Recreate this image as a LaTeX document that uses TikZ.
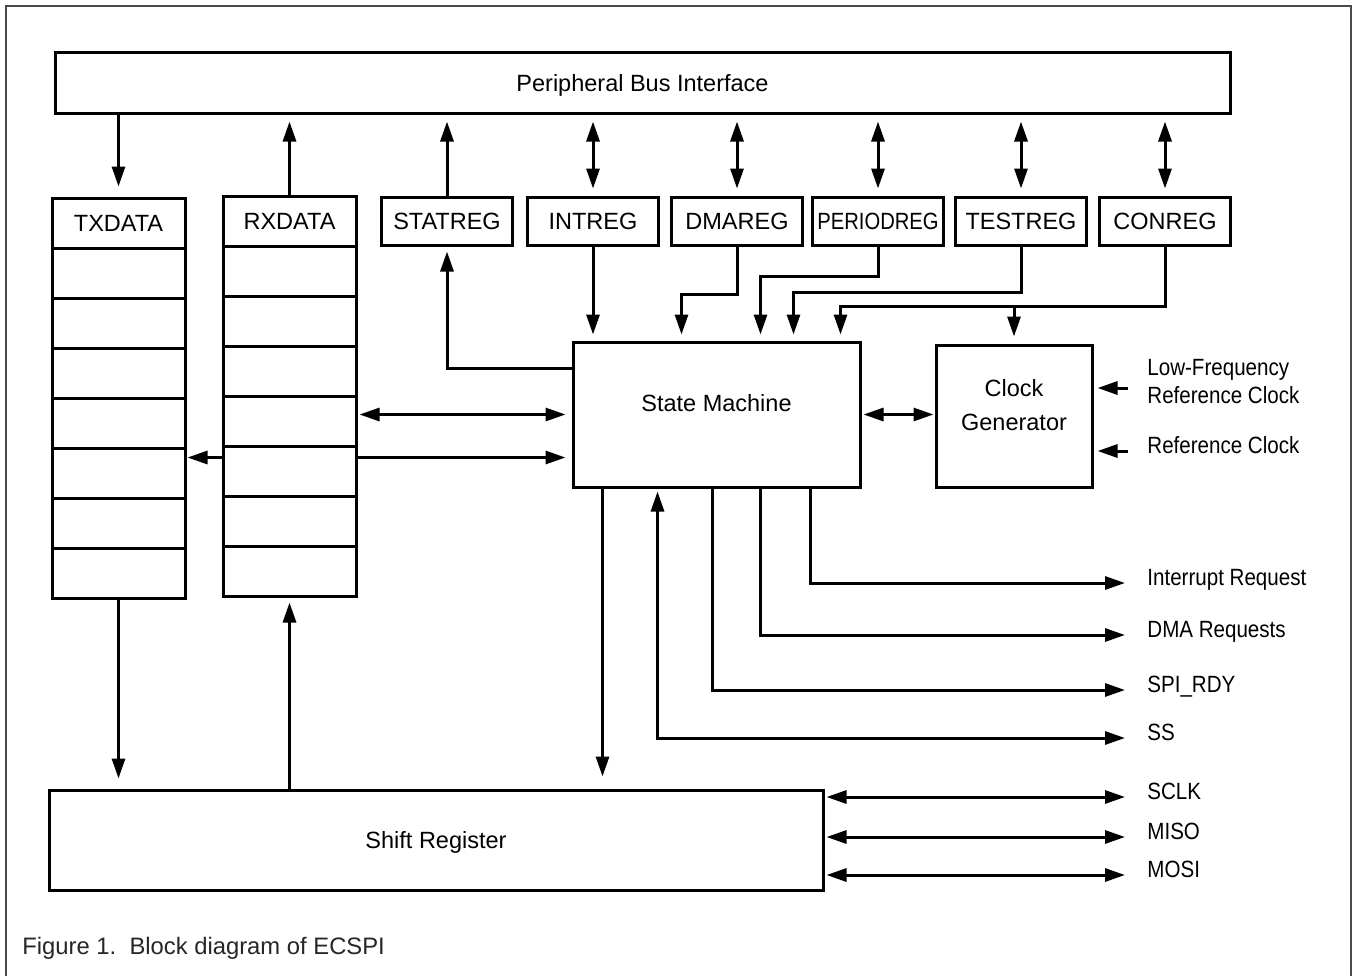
\documentclass[tikz,border=0pt]{standalone}
\usepackage{fontspec}
\setmainfont{Liberation Sans}
\newfontfamily\narrowfont[FakeStretch=0.875]{Liberation Sans}
\usepackage{tikz}
\usetikzlibrary{calc}
\usetikzlibrary{arrows.meta}
\definecolor{framegray}{HTML}{4A4A4A}
\definecolor{captext}{HTML}{262626}
\tikzset{
txt/.style = {font=\fontsize{11.75}{17}\selectfont,
        text height=8.5pt, text depth=0pt},
blk/.style = {draw, line width=1.5pt, inner sep=0pt, txt},
SIG/.style = {line width=1.5pt,
        -{Triangle[length=10pt,width=6.5pt]}
            },
BSIG/.style = {line width=1.5pt,
        {Triangle[length=10pt,width=6.5pt]}-%
        {Triangle[length=10pt,width=6.5pt]}
            },
lbl/.style = {txt, font=\narrowfont\fontsize{11.75}{17}\selectfont,
        inner sep=0pt, anchor=west, text depth=6pt}
        }

\begin{document}
\begin{tikzpicture}[x=0.5pt, y=-0.5pt]

\fill[white] (0,0) rectangle (1354,976);
\useasboundingbox (0,0) rectangle (1354,976);
\draw[framegray, line width=1.2pt] (6,976) -- (6,6) -- (1351,6) -- (1351,976);

%%% Blocks:

\node[blk, minimum width=587.5pt, minimum height=30.5pt] (pbi) at (642.5,82.5) {Peripheral Bus Interface};

\node[blk, minimum width=66.5pt, minimum height=25pt] (tx0) at (118.5,223) {TXDATA};
\node[blk, minimum width=66.5pt, minimum height=25pt] (rx0) at (289.5,221) {RXDATA};
\foreach \i in {1,...,7}{
  \node[blk, minimum width=66.5pt, minimum height=25pt] (tx\i) at (118.5,{223+50*\i}) {};
  \node[blk, minimum width=66.5pt, minimum height=25pt] (rx\i) at (289.5,{221+50*\i}) {};
}

\foreach \nm/\txt/\xx in {statreg/STATREG/447, intreg/INTREG/593, dmareg/DMAREG/737,
    periodreg/{\scalebox{0.86}[1]{PERIODREG}}/878, testreg/TESTREG/1021, conreg/CONREG/1165}
  \node[blk, minimum width=65.5pt, minimum height=24pt] (\nm) at (\xx,221) {\txt};

\node[blk, minimum width=143.5pt, minimum height=72.5pt,
      label={[txt, yshift=5.75pt]center:State Machine}] (sm) at (716.5,414.5) {};
\node[blk, minimum width=78pt, minimum height=71pt,
      label={[txt, align=center, text height=, text depth=, yshift=5.5pt]center:Clock\\Generator}] (clk) at (1014,416) {};
\node[blk, minimum width=387pt, minimum height=50pt] (sr) at (436,840) {Shift Register};

%%% Signal names:

\node[lbl, align=left, text height=, text depth=,
      font=\narrowfont\fontsize{11.75}{14}\selectfont] (lfclk) at (1147,382) {Low-Frequency\\Reference Clock};
\node[lbl] (refclk) at (1147,451) {Reference Clock};
\node[lbl] (irq) at (1147,583) {Interrupt Request};
\node[lbl] (dmareq) at (1147,635) {DMA Requests};
\node[lbl] (spirdy) at (1147,690) {SPI\_RDY};
\node[lbl] (ss) at (1147,738) {SS};
\node[lbl] (sclk) at (1147,797) {SCLK};
\node[lbl] (miso) at (1147,837) {MISO};
\node[lbl] (mosi) at (1147,875) {MOSI};

%%% Bus side:

\draw[SIG, shorten >=5pt] (pbi.south -| tx0.north) -- (tx0.north);
\draw[SIG, shorten >=3.5pt] (rx0.north) -- (rx0.north |- pbi.south);
\draw[SIG, shorten >=3.5pt] (statreg.north) -- (statreg.north |- pbi.south);
\foreach \nm in {intreg,dmareg,periodreg,testreg,conreg}
  \draw[BSIG, shorten <=3.5pt, shorten >=3.5pt] (\nm.north) -- (\nm.north |- pbi.south);

%%% Registers and state machine:

\draw[SIG, shorten >=2.5pt] ([yshift=-14pt]sm.north west) -| (statreg.south);
\draw[SIG, shorten >=3pt] (intreg.south) -- (intreg.south |- sm.north);
\draw[SIG, shorten >=3pt] (dmareg.south) -- ++(0,48) -| ([xshift=55pt]sm.north west);
\draw[SIG, shorten >=3pt] (periodreg.south) -- ++(0,30) -| ([xshift=94.5pt]sm.north west);
\draw[SIG, shorten >=3pt] (testreg.south) -- ++(0,46) -| ([xshift=111pt]sm.north west);
\draw[SIG, shorten >=3pt] (conreg.south) -- ++(0,60) coordinate (conbend) -| ([xshift=134.5pt]sm.north west);
\draw[SIG, shorten >=3.5pt] (conbend -| clk.north) -- (clk.north);

\coordinate (smin) at ([yshift=-21.5pt]sm.west);
\draw[BSIG, shorten <=1pt, shorten >=3pt] (sm.west -| rx4.east) -- (sm.west);
\draw[SIG, shorten >=3pt] (smin -| rx5.east) -- (smin);
\draw[SIG, shorten >=0.5pt] (smin -| rx5.west) -- (smin -| tx5.east);

\draw[BSIG, shorten <=1pt, shorten >=0.5pt] (sm.east) -- (sm.east -| clk.west);

\coordinate (lfin) at ($(lfclk.west)+(0,6)$);
\draw[SIG, shorten <=9.5pt, shorten >=2pt] (lfin) -- (lfin -| clk.east);
\draw[SIG, shorten <=9.5pt, shorten >=2pt] (refclk.west) -- (refclk.west -| clk.east);

%%% State machine outputs:

\draw[SIG, shorten >=11pt] ([xshift=119.5pt]sm.south west) |- (irq.west);
\draw[SIG, shorten >=11pt] ([xshift=94.5pt]sm.south west) |- (dmareq.west);
\draw[SIG, shorten >=11pt] ([xshift=70.5pt]sm.south west) |- (spirdy.west);
\draw[BSIG, shorten <=11pt, shorten >=1.5pt] (ss.west) -| ([xshift=43pt]sm.south west);

\coordinate (smsr) at ([xshift=15.5pt]sm.south west);
\draw[SIG, shorten >=6pt] (smsr) -- (smsr |- sr.north);

%%% Shift register:

\draw[SIG, shorten >=5pt] (tx7.south) -- (tx7.south |- sr.north);
\draw[SIG, shorten >=2.5pt] (rx7.south |- sr.north) -- (rx7.south);
\foreach \nm in {sclk,miso,mosi}
  \draw[BSIG, shorten <=1pt, shorten >=11pt] (\nm.west -| sr.east) -- (\nm.west);

\node[anchor=base west, inner sep=0pt, text=captext, font=\fontsize{11.9}{14}\selectfont] (caption) at (22,954)
     {Figure 1.\ \ Block diagram of ECSPI};

\end{tikzpicture}
\end{document}
